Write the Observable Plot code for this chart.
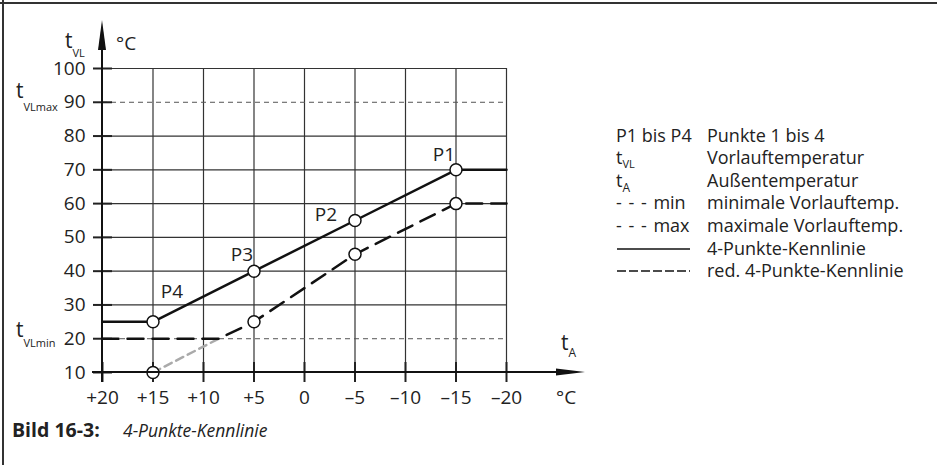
<!DOCTYPE html>
<html><head><meta charset="utf-8">
<script src="https://cdn.jsdelivr.net/npm/d3@7"></script>
<script src="https://cdn.jsdelivr.net/npm/@observablehq/plot@0.6"></script>
<style>body{margin:0;background:#fff} svg{display:block}</style>
</head><body><div id="chart"></div>
<script>
const FONT = "'Open Sans', sans-serif";

// axes
const xTicks = [20, 15, 10, 5, 0, -5, -10, -15, -20];
const xTickLabels = ["+20", "+15", "+10", "+5", "0", "–5", "–10", "–15", "–20"];
const yTicks = [10, 20, 30, 40, 50, 60, 70, 80, 90, 100];
const yGridSolid = [30, 40, 50, 60, 70, 80, 100];
const yGridDashed = [20, 90];
const xGrid = [15, 10, 5, 0, -5, -10, -15, -20];

// 4-Punkte-Kennlinie
const curveTA = [20, 15, 5, -5, -15, -20];
const curveTVL = [25, 25, 40, 55, 70, 70];
// red. 4-Punkte-Kennlinie
const redTA = [20, 8.5, 5, -5, -15, -20];
const redTVL = [20, 20, 25, 45, 60, 60];
// clipped part (below t_VLmin)
const greyTA = [15, 8.5];
const greyTVL = [10, 20];
// points P4..P1
const pointNames = ["P4", "P3", "P2", "P1"];
const pointTA = [15, 5, -5, -15];
const pointTVL = [25, 40, 55, 70];
const redPointTVL = [10, 25, 45, 60];

const curve = curveTA.map((x, i) => ({x, y: curveTVL[i]}));
const red = redTA.map((x, i) => ({x, y: redTVL[i]}));
const grey = greyTA.map((x, i) => ({x, y: greyTVL[i]}));
const pts = pointTA.map((x, i) => ({x, y: pointTVL[i], name: pointNames[i]}));
const redPts = pointTA.map((x, i) => ({x, y: redPointTVL[i]}));
const labelOffsets = {P4: [19, -30], P3: [-12, -16], P2: [-29, -6], P1: [-12, -15]};

const plot = Plot.plot({
  width: 937, height: 465,
  marginLeft: 102, marginRight: 431, marginTop: 68, marginBottom: 93,
  x: {domain: [20, -20], axis: null},
  y: {domain: [10, 100], axis: null},
  style: {fontFamily: FONT, fontSize: "19px", background: "white", color: "#222"},
  marks: [
    Plot.ruleX(xGrid, {x: d => d, y1: 10, y2: 100, stroke: "#333", strokeWidth: 1.2}),
    Plot.ruleY(yGridSolid, {y: d => d, x1: 20, x2: -20, stroke: "#333", strokeWidth: 1.2}),
    Plot.ruleY(yGridDashed, {y: d => d, x1: 20, x2: -20, stroke: "#555", strokeWidth: 1, strokeDasharray: "5,4"}),
    Plot.ruleY(yTicks, {y: d => d, x1: 20, x2: 20, insetLeft: -9, insetRight: -10, stroke: "#222", strokeWidth: 2}),
    Plot.ruleX(xTicks, {x: d => d, y1: 10, y2: 10, insetTop: -10, insetBottom: -10, stroke: "#222", strokeWidth: 2}),
    Plot.line(grey, {x: "x", y: "y", stroke: "#aaa", strokeWidth: 2.5, strokeDasharray: "8,5"}),
    Plot.line(red, {x: "x", y: "y", stroke: "#111", strokeWidth: 2.5, strokeDasharray: "16,9"}),
    Plot.line(curve, {x: "x", y: "y", stroke: "#111", strokeWidth: 2.5}),
    Plot.dot(pts, {x: "x", y: "y", r: 6, fill: "white", stroke: "#111", strokeWidth: 1.5}),
    Plot.dot(redPts, {x: "x", y: "y", r: 6, fill: "white", stroke: "#111", strokeWidth: 1.5}),
    ...pts.map(p => Plot.text([p], {x: "x", y: "y", text: "name", dx: labelOffsets[p.name][0], dy: labelOffsets[p.name][1], fontSize: 19, fill: "#222"})),
    Plot.text(yTicks, {x: 20, y: d => d, text: d => String(d), textAnchor: "end", dx: -17, fontSize: 19, fill: "#222"}),
    Plot.text(xTicks, {x: d => d, y: 10, text: (d, i) => xTickLabels[i], dy: 25, fontSize: 19, fill: "#222"})
  ]
});
document.getElementById("chart").appendChild(plot);

const xs = plot.scale("x"), ys = plot.scale("y");
const X0 = xs.apply(20), Y0 = ys.apply(10), YT = ys.apply(100);
const svg = d3.select(plot);
const g = svg.append("g").attr("font-family", FONT).attr("fill", "#222").attr("text-anchor", "start");

// axes lines with arrows
g.append("line").attr("x1", X0).attr("x2", X0).attr("y1", Y0 + 10).attr("y2", YT - 20)
  .attr("stroke", "#111").attr("stroke-width", 2);
g.append("polygon").attr("points", `${X0},${YT - 48} ${X0 - 4},${YT - 18} ${X0 + 4},${YT - 18}`).attr("fill", "#111");
g.append("line").attr("x1", X0 - 10).attr("x2", 560).attr("y1", Y0).attr("y2", Y0)
  .attr("stroke", "#111").attr("stroke-width", 2);
g.append("polygon").attr("points", `585,${Y0} 556,${Y0 - 3.5} 556,${Y0 + 3.5}`).attr("fill", "#111");

// frame
g.append("path").attr("d", "M0,3H937M3,0V465").attr("stroke", "#333").attr("stroke-width", 2).attr("fill", "none");

function tsub(x, y, main, sub, size, subSize, subDy) {
  const t = g.append("text").attr("x", x).attr("y", y).attr("font-size", size);
  t.append("tspan").text(main);
  t.append("tspan").attr("font-size", subSize).attr("dy", subDy).text(sub);
  return t;
}
// axis labels
tsub(65, 48, "t", "VL", 21, 11, 9);
g.append("text").attr("x", 116).attr("y", 50).attr("font-size", 19).text("°C");
tsub(16, 98, "t", "VLmax", 21, 11, 13);
tsub(16, 337, "t", "VLmin", 21, 11, 10);
tsub(561, 350, "t", "A", 21, 12, 7);
g.append("text").attr("x", 556).attr("y", 404).attr("font-size", 19).text("°C");

// legend
const c1 = 616, c2 = 707, fs = 18;
const rowsY = [142, 164, 187, 209, 232, 255, 277];
g.append("text").attr("x", c1).attr("y", rowsY[0]).attr("font-size", fs).text("P1 bis P4");
g.append("text").attr("x", c2).attr("y", rowsY[0]).attr("font-size", fs).text("Punkte 1 bis 4");
tsub(c1, rowsY[1], "t", "VL", fs, 11, 4);
g.append("text").attr("x", c2).attr("y", rowsY[1]).attr("font-size", fs).text("Vorlauftemperatur");
tsub(c1, rowsY[2], "t", "A", fs, 12, 5);
g.append("text").attr("x", c2).attr("y", rowsY[2]).attr("font-size", fs).text("Außentemperatur");
g.append("text").attr("x", c1).attr("y", rowsY[3]).attr("font-size", fs).attr("word-spacing", 2).text("- - - min");
g.append("text").attr("x", c2).attr("y", rowsY[3]).attr("font-size", fs).text("minimale Vorlauftemp.");
g.append("text").attr("x", c1).attr("y", rowsY[4]).attr("font-size", fs).attr("word-spacing", 2).text("- - - max");
g.append("text").attr("x", c2).attr("y", rowsY[4]).attr("font-size", fs).text("maximale Vorlauftemp.");
g.append("line").attr("x1", 617).attr("x2", 690).attr("y1", rowsY[5] - 6).attr("y2", rowsY[5] - 6).attr("stroke", "#111").attr("stroke-width", 1.5);
g.append("text").attr("x", c2).attr("y", rowsY[5]).attr("font-size", fs).text("4-Punkte-Kennlinie");
g.append("line").attr("x1", 617).attr("x2", 690).attr("y1", rowsY[6] - 6).attr("y2", rowsY[6] - 6).attr("stroke", "#111").attr("stroke-width", 1.5).attr("stroke-dasharray", "9,3");
g.append("text").attr("x", c2).attr("y", rowsY[6]).attr("font-size", fs).text("red. 4-Punkte-Kennlinie");

// caption
const cap = g.append("text").attr("x", 12).attr("y", 437).attr("font-size", 17.5);
cap.append("tspan").attr("font-weight", "bold").attr("font-size", 19.5).text("Bild 16-3:");
cap.append("tspan").attr("x", 123).attr("font-style", "italic").text("4-Punkte-Kennlinie");
</script>
</body></html>
